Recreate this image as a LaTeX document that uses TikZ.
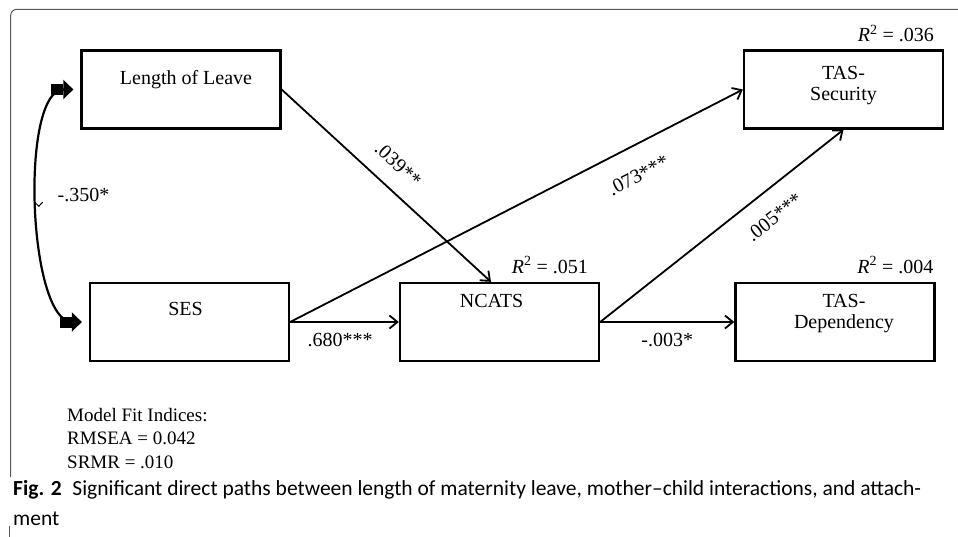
\documentclass[tikz,border=0pt]{standalone}
\usepackage{fontspec}
\setmainfont{Liberation Serif}
\newfontfamily\capfont{Carlito}
\usepackage{tikz}
\usetikzlibrary{arrows.meta, positioning, decorations.markings}

\begin{document}
\begin{tikzpicture}[x=1pt, y=-1pt, >={Straight Barb[length=8pt,width=13pt]},
  var node/.style={rectangle, draw, line width=2.3pt, minimum width=199pt, minimum height=78pt, inner sep=0pt},
  var text/.style={font=\fontsize{20}{21}\selectfont, align=center, inner sep=0pt},
  rsq node/.style={font=\fontsize{20}{24}\selectfont, inner sep=0pt},
  coef/.style={font=\fontsize{20}{24}\selectfont, inner sep=2pt},
  corr/.style={line width=2.2pt, shorten <=7pt, shorten >=7pt,
    {Triangle[length=10pt,width=19pt] Rectangle[length=12pt,width=11pt]}-{Rectangle[length=12pt,width=11pt] Triangle[length=10pt,width=19pt]},
    postaction={decorate}, decoration={markings, mark=at position 0.5 with {\arrow[line width=1pt]{Straight Barb[length=4pt,width=8pt]}}}}]

  \useasboundingbox (0,0) rectangle (958,537);

  \draw[black!65, line width=1pt, rounded corners=6pt] (10.7,477) -- (10.7,9.3) -- (958,9.3);
  \draw[black!65, line width=1pt] (9.5,526) -- (9.5,537);

  \node[var node] (lol) at (181,89.5) {};
  \node[var node] (ses) at (189.5,322) {};
  \node[var node] (ncats) at (499.5,322) {};
  \node[var node] (tassec) at (843.5,89.5) {};
  \node[var node] (tasdep) at (835,322) {};

  \node[var text] (lolt) [below=21pt of lol.north, xshift=5pt] {Length of Leave};
  \node[var text] (sest) [below=20pt of ses.north, xshift=-4pt] {SES};
  \node[var text] (ncatst) [below=12pt of ncats.north, xshift=-8pt] {NCATS};
  \node[var text] (tassect) [below=17pt of tassec.north] {TAS-\\Security};
  \node[var text] (tasdept) [below=12pt of tasdep.north, xshift=9pt] {TAS-\\Dependency};

  \node[rsq node] (r2sec) [above left=7pt and 10pt of tassec.north east] {\textit{R}\textsuperscript{2} = .036};
  \node[rsq node] (r2ncats) [above left=8pt and 12pt of ncats.north east] {\textit{R}\textsuperscript{2} = .051};
  \node[rsq node] (r2dep) [above left=8pt and 2pt of tasdep.north east] {\textit{R}\textsuperscript{2} = .004};

  \path[->, line width=1.8pt, every node/.style={coef}]
    (lol.east) edge node[pos=0.48, sloped, above=14pt] {.039**} (ncats.102)
    (ses.east) edge node[pos=0.74, sloped, below=19pt] {.073***} (tassec.west)
    (ses.east) edge node[pos=0.46, below=8pt] {.680***} (ncats.west)
    (ncats.east) edge node[pos=0.65, sloped, below=16pt] {.005***} (tassec.south)
    (ncats.east) edge node[pos=0.5, below=8pt] {-.003*} (tasdep.west);

  \draw[corr] (lol.west) to[out=180, in=180, looseness=0.67] node[coef, pos=0.47, right=16pt] (cov) {-.350*} (ses.west);

  \node[anchor=north west, inner sep=0pt, align=left, font=\fontsize{19}{23.5}\selectfont] (fit) at (67,408) {Model Fit Indices:\\RMSEA = 0.042\\SRMR = .010};
  \node[anchor=north west, inner sep=0pt, align=left, font=\capfont\fontsize{21.5}{30}\selectfont] (cap) at (13,480) {\textbf{Fig. 2}\hspace{0.5em}Significant direct paths between length of maternity leave, mother–child interactions, and attach-\\ment};
\end{tikzpicture}
\end{document}
